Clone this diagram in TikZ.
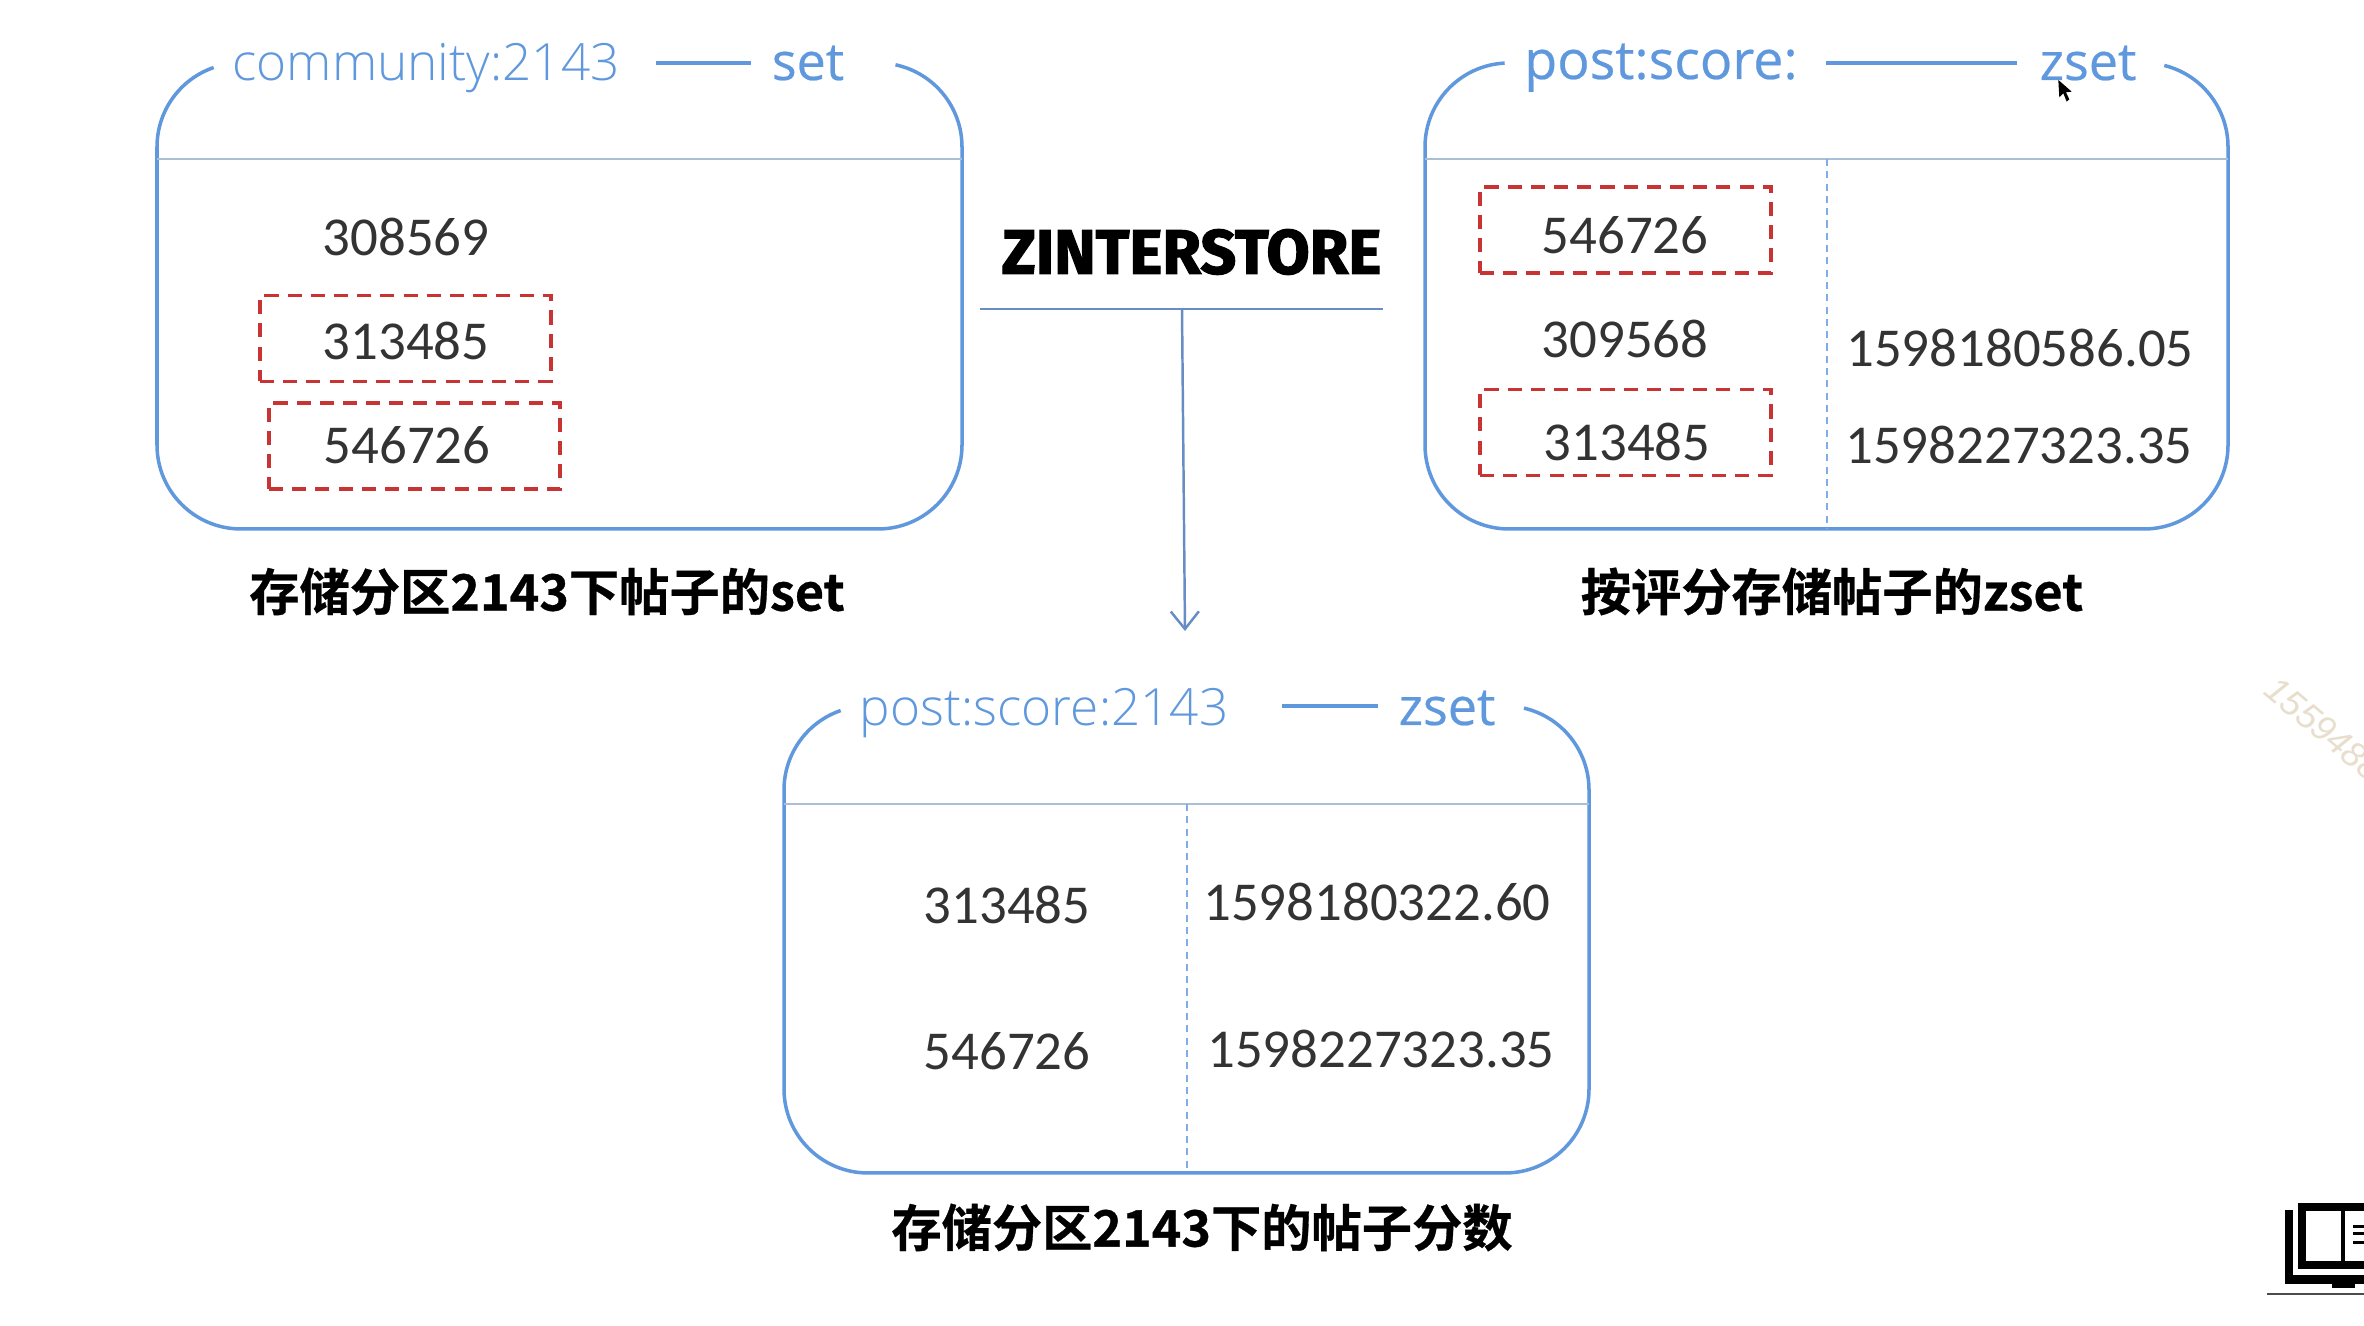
\documentclass[tikz,border=0pt]{standalone}
\usepackage{fontspec}
\setmainfont{Carlito}
\newfontfamily\cjkbold[BoldFont={Noto Sans CJK SC Bold},BoldFeatures={FakeBold=.6}]{Noto Sans CJK SC}
\newfontfamily\headfont{Open Sans Light}
\newfontfamily\typefont[FakeBold=.4]{Open Sans}
\newfontfamily\heavyfont[BoldFeatures={FakeBold=2}]{Fira Sans}
\newfontfamily\markfont{Liberation Sans}
\usetikzlibrary{positioning,arrows.meta}
\definecolor{boxblue}{RGB}{96,152,222}
\definecolor{rulegrey}{RGB}{170,190,214}
\definecolor{linkblue}{RGB}{104,140,196}
\definecolor{hitred}{RGB}{200,52,52}
\definecolor{markbeige}{RGB}{232,222,205}
\tikzset{
  boxline/.style={draw=boxblue,line width=1pt},
  ruleline/.style={draw=rulegrey,line width=.8pt},
  splitline/.style={draw=boxblue!80,line width=.5pt,dash pattern=on 2pt off 1.5pt},
  hitbox/.style={draw=hitred,line width=.9pt,dash pattern=on 4pt off 2.6pt,minimum width=2.91cm,minimum height=.86cm,inner sep=0pt},
  numtext/.style={font=\fontsize{15.6}{16}\selectfont,text=black!80,inner sep=0pt},
  keytext/.style={font=\headfont\fontsize{14.6}{16}\selectfont,text=boxblue,anchor=base,inner sep=0pt},
  typetext/.style={font=\typefont\fontsize{14.8}{16}\selectfont,text=boxblue,anchor=base,inner sep=0pt},
  captext/.style={font=\cjkbold\bfseries\fontsize{14.3}{15}\selectfont,inner sep=0pt},
}
\begin{document}
\begin{tikzpicture}[>=Stealth]
\useasboundingbox (0,0) rectangle (23.64,13.26);
\fill[white] (0,0) rectangle (23.64,13.26);
% the three boxes
\foreach \xa/\xb/\yt/\yb/\ym/\la/\ra in {1.57/9.62/12.63/7.97/11.67/109/78,14.25/22.28/12.63/7.97/11.67/93/76,7.84/15.89/6.20/1.53/5.22/109/77} {
  \def\r{.84}
  \draw[boxline] ([shift={(\la:\r)}]\xa+\r,\yt-\r) arc[start angle=\la,end angle=180,radius=\r]
    -- (\xa,\yb+\r) arc[start angle=180,end angle=270,radius=\r]
    -- (\xb-\r,\yb) arc[start angle=270,end angle=360,radius=\r]
    -- (\xb,\yt-\r) arc[start angle=0,end angle=\ra,radius=\r];
  \draw[ruleline] (\xa,\ym) -- (\xb,\ym);
}
\draw[splitline] (18.27,11.67) -- (18.27,7.97);
\draw[splitline] (11.87,5.22) -- (11.87,1.53);
% headers
\node[keytext] (setkey) at (4.26,12.45) {community:2143};
\node[typetext] (settype) at (8.08,12.46) {set};
\node[typetext,font=\typefont\fontsize{15.3}{16}\selectfont] (scorekey) at (16.61,12.47) {post:score:};
\node[typetext] (scoretype) at (20.88,12.46) {zset};
\node[keytext] (resultkey) at (10.44,6.00) {post:score:2143};
\node[typetext] (resulttype) at (14.47,6.01) {zset};
\foreach \na/\xa/\nb/\xb/\y in {seta/6.56/setb/7.51/12.63,scorea/18.26/scoreb/20.17/12.63,resulta/12.82/resultb/13.78/6.20} {
  \coordinate (\na) at (\xa,\y);
  \coordinate (\nb) at (\xb,\y);
  \draw[boxline] (\na) -- (\nb);
}
% marked members
\foreach \n/\x/\y in {hita/4.055/9.875,hitb/4.145/8.80,hitc/16.255/10.96,hitd/16.255/8.935}
  \node[hitbox] (\n) at (\x,\y) {};
% members and scores
\foreach \n/\x/\y/\t in {m1/4.06/10.89/308569,m2/4.06/9.85/313485,m3/4.07/8.81/546726,
  m4/16.25/10.91/546726,m5/16.25/9.87/309568,m6/16.27/8.84/313485,
  m7/20.20/9.78/1598180586.05,m8/20.19/8.81/1598227323.35,
  m9/10.07/4.21/313485,m10/10.07/2.75/546726,
  m11/13.77/4.24/1598180322.60,m12/13.81/2.77/1598227323.35}
  \node[numtext] (\n) at (\x,\y) {\t};
% captions
\node[captext] (capa) at (5.47,7.345) {存储分区2143下帖子的set};
\node[captext] (capb) at (18.32,7.345) {按评分存储帖子的zset};
\node[captext] (capc) at (12.02,.985) {存储分区2143下的帖子分数};
% operation
\node[font=\heavyfont\bfseries\fontsize{17.8}{18}\selectfont,inner sep=0pt] (zinter) at (11.915,10.74) {ZINTERSTORE};
\coordinate (zleft) at (9.80,10.17);
\coordinate (zright) at (13.83,10.17);
\coordinate (zfoot) at (11.82,10.17);
\coordinate (ztip) at (11.85,6.95);
\draw[draw=linkblue,line width=.7pt] (zleft) -- (zright);
\draw[->,>={Straight Barb[length=5pt,width=8pt]},draw=linkblue,line width=.7pt] (zfoot) -- (ztip);
% cursor
\fill[black] (20.583,12.46) -- (20.593,12.287) -- (20.633,12.327) -- (20.667,12.243) -- (20.693,12.267) -- (20.66,12.337) -- (20.717,12.343) -- cycle;
% watermark
\node[font=\markfont\itshape\fontsize{10.2}{11}\selectfont,text=markbeige,rotate=-40,anchor=base west,inner sep=0pt] (mark) at (22.62,6.33) {1559488};
% book icon
\fill[black] (22.85,1.16) rectangle (22.93,.42);
\fill[black] (22.85,.51) rectangle (23.64,.42);
\fill[black] (23.32,.42) rectangle (23.55,.38);
\draw[black,line width=2.2pt] (23.64,.61) -- (23.02,.61) -- (23.02,1.19) -- (23.64,1.19);
\fill[black] (23.41,1.23) rectangle (23.45,.57);
\foreach \y in {1.01,.94,.85} \fill[black] (23.53,\y) rectangle (23.64,\y-.03);
\draw[black!70,line width=.7pt] (22.67,.32) -- (23.64,.32);
\end{tikzpicture}
\end{document}
